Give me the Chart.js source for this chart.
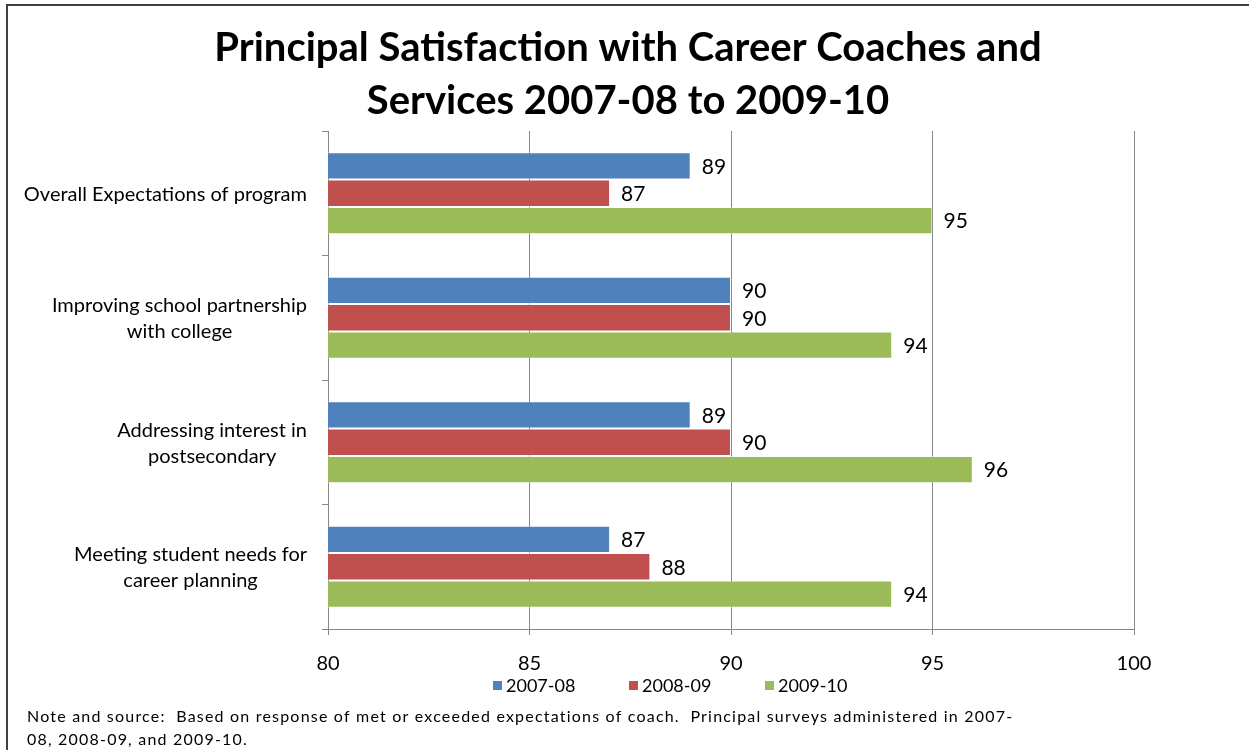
<!DOCTYPE html>
<html>
<head>
<meta charset="utf-8">
<title>Principal Satisfaction with Career Coaches and Services</title>
<script src="https://cdn.jsdelivr.net/npm/chart.js@4.4.1/dist/chart.umd.min.js"></script>
<style>
  html, body { margin: 0; padding: 0; background: #fff; overflow: hidden; }
  #frame { position: absolute; left: 6px; top: 4px; width: 1260px; height: 760px; border: 2px solid #404040; }
  #wrap { position: absolute; left: 0; top: 0; width: 1249px; height: 750px; }
</style>
</head>
<body>
<div id="frame"></div>
<div id="wrap"><canvas id="satisfactionChart" width="1249" height="750"></canvas></div>
<script>
// survey categories (top to bottom) and the three school years
const categories = [
    ['Overall Expectations of program'],
    ['Improving school partnership', 'with college'],
    ['Addressing interest in', 'postsecondary'],
    ['Meeting student needs for', 'career planning']
];
const seriesNames = ['2007-08', '2008-09', '2009-10'];
const values2007 = [89, 90, 89, 87];
const values2008 = [87, 90, 90, 88];
const values2009 = [95, 94, 96, 94];
const xTicks = [80, 85, 90, 95, 100];

const titleLines = ['Principal Satisfaction with Career Coaches and', 'Services 2007-08 to 2009-10'];
const noteLines = [
    'Note and source:  Based on response of met or exceeded expectations of coach.  Principal surveys administered in 2007-',
    '08, 2008-09, and 2009-10.'
];

const barColors = ['#4F81BD', '#C0504D', '#9BBB59'];
const gridColor = '#868686';
const fontFamily = 'Lato';

// numbers written just past the end of each bar
const valueLabels = {
    id: 'valueLabels',
    afterDatasetsDraw(chart) {
        const ctx = chart.ctx;
        ctx.save();
        ctx.font = '21px ' + fontFamily;
        ctx.fillStyle = '#000';
        ctx.textAlign = 'left';
        ctx.textBaseline = 'middle';
        chart.data.datasets.forEach((ds, i) => {
            chart.getDatasetMeta(i).data.forEach((bar, j) => {
                ctx.fillText(ds.data[j], bar.x + 11, bar.y + 1);
            });
        });
        ctx.restore();
    }
};

// category names: each block right-aligned to the axis, its lines centred on each other
const categoryLabels = {
    id: 'categoryLabels',
    afterDraw(chart) {
        const scale = chart.scales.y;
        const ctx = chart.ctx;
        const right = scale.right - 21;
        const lineGap = 26;
        ctx.save();
        ctx.font = '20px ' + fontFamily;
        ctx.fillStyle = '#000';
        ctx.textAlign = 'center';
        ctx.textBaseline = 'middle';
        chart.data.labels.forEach((lines, i) => {
            const y = scale.getPixelForValue(i);
            const widest = Math.max(...lines.map(t => ctx.measureText(t).width));
            const cx = right - widest / 2;
            lines.forEach((t, k) => {
                ctx.fillText(t, cx, y + 1 + (k - (lines.length - 1) / 2) * lineGap);
            });
        });
        ctx.restore();
    }
};

// legend row under the axis: small square + year
const legendRow = {
    id: 'legendRow',
    afterDraw(chart) {
        const ctx = chart.ctx;
        const y = 686;
        const step = 136;
        let x = 493;
        ctx.save();
        ctx.font = '18px ' + fontFamily;
        ctx.textAlign = 'left';
        ctx.textBaseline = 'middle';
        chart.data.datasets.forEach(ds => {
            ctx.fillStyle = ds.backgroundColor;
            ctx.fillRect(x, y - 5, 9, 9);
            ctx.fillStyle = '#000';
            ctx.fillText(ds.label, x + 13, y);
            x += step;
        });
        ctx.restore();
    }
};

// source note in the bottom strip
const sourceNote = {
    id: 'sourceNote',
    afterDraw(chart) {
        const ctx = chart.ctx;
        ctx.save();
        ctx.font = '16px ' + fontFamily;
        ctx.letterSpacing = '1.2px';
        ctx.fillStyle = '#000';
        ctx.textAlign = 'left';
        ctx.textBaseline = 'middle';
        noteLines.forEach((t, k) => ctx.fillText(t, 27, 717 + k * 23));
        ctx.restore();
    }
};

function buildChart() {
    Chart.defaults.font.family = fontFamily;
    Chart.defaults.color = '#000';

    const seriesValues = [values2007, values2008, values2009];
    const ctx = document.getElementById('satisfactionChart').getContext('2d');

    new Chart(ctx, {
        type: 'bar',
        data: {
            labels: categories,
            datasets: seriesNames.map((name, i) => ({
                label: name,
                data: seriesValues[i],
                backgroundColor: barColors[i],
                borderColor: 'rgba(255,255,255,0.45)',
                borderWidth: 1,
                barPercentage: 1,
                categoryPercentage: 0.66
            }))
        },
        options: {
            indexAxis: 'y',
            responsive: false,
            animation: false,
            layout: { padding: { left: 27, right: 20, top: 0, bottom: 44 } },
            scales: {
                x: {
                    type: 'linear',
                    min: xTicks[0],
                    max: xTicks[xTicks.length - 1],
                    afterBuildTicks(scale) {
                        scale.ticks = xTicks.map(v => ({ value: v }));
                    },
                    afterFit(scale) { scale.height = 77; },
                    ticks: { font: { size: 20 }, padding: 17, color: '#000' },
                    grid: { color: gridColor, lineWidth: 1, tickLength: 6 },
                    border: { color: gridColor, width: 1 }
                },
                y: {
                    afterFit(scale) { scale.width = 301; },
                    ticks: { display: false },
                    grid: { drawOnChartArea: false, color: gridColor, tickLength: 6, offset: true },
                    border: { color: gridColor, width: 1 }
                },
                // empty right-hand strip that keeps the plot clear of the canvas edge
                yRight: {
                    type: 'category',
                    position: 'right',
                    ticks: { display: false },
                    grid: { display: false },
                    border: { display: false },
                    afterFit(scale) { scale.width = 95; }
                }
            },
            plugins: {
                legend: { display: false },
                tooltip: { enabled: false },
                title: {
                    display: true,
                    text: titleLines,
                    color: '#000',
                    font: { size: 40, weight: 'bold', lineHeight: 53 / 40 },
                    padding: { top: 22, bottom: 3 }
                }
            }
        },
        plugins: [valueLabels, categoryLabels, legendRow, sourceNote]
    });
}

Promise.all([
    document.fonts.load('20px Lato'),
    document.fonts.load('bold 40px Lato')
]).then(buildChart, buildChart);
</script>
</body>
</html>
